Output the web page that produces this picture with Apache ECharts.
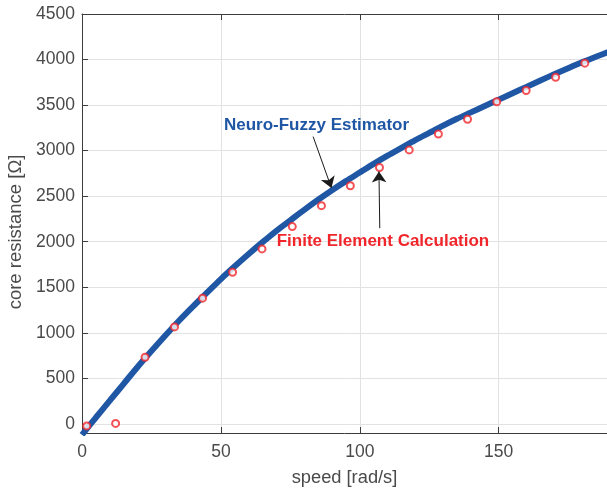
<!DOCTYPE html>
<html>
<head>
<meta charset="utf-8">
<script src="https://cdn.jsdelivr.net/npm/echarts@6/dist/echarts.min.js"></script>
<style>
  html, body { margin: 0; padding: 0; background: #fff; }
  #chart { width: 607px; height: 488px; }
</style>
</head>
<body>
<div id="chart"></div>
<script>
// Neuro-fuzzy estimator output (continuous curve)
const speedNF = [0, 5, 10, 15, 20, 25, 30, 35, 40, 45, 50, 55, 60, 65, 70, 75, 80, 85, 90, 95,
  100, 105, 110, 115, 120, 125, 130, 135, 140, 145, 150, 155, 160, 165, 170, 175, 180, 185, 190];
const resistanceNF = [-120, 70, 255, 440, 625, 800, 970, 1135, 1290, 1440, 1590, 1730, 1865, 1995, 2120,
  2235, 2350, 2460, 2565, 2665, 2760, 2855, 2945, 3030, 3115, 3195, 3275, 3350, 3420, 3490,
  3560, 3630, 3700, 3770, 3838, 3905, 3970, 4030, 4088];

// Finite element calculation results
const speedFE = [1.7, 12.1, 22.7, 33.3, 43.4, 54.2, 64.8, 75.7, 86.2, 96.6, 107.1, 117.8, 128.3,
  138.8, 149.3, 159.9, 170.5, 181.0];
const resistanceFE = [-22, 5, 732, 1065, 1380, 1665, 1921, 2166, 2396, 2614, 2815, 3008, 3182,
  3345, 3537, 3660, 3805, 3960];

// Axis ticks
const xTicks = [0, 50, 100, 150];
const yTicks = [0, 500, 1000, 1500, 2000, 2500, 3000, 3500, 4000, 4500];

// Annotation arrows: [from, to] in data coordinates
const arrowNF = [[83.2, 3154], [89.8, 2590]];
const arrowFE = [[107.2, 2148], [106.9, 2772]];

const FONT = 'Liberation Sans, Arial, Helvetica, sans-serif';
const TEXT_GRAY = '#4a4a4a';
const AXIS_GRAY = '#3c3c3c';
const GRID_GRAY = '#e2e2e2';
const BLUE = '#1f57a5';
const RED = '#f0262b';

const plain = v => String(v);

const chart = echarts.init(document.getElementById('chart'), null, { renderer: 'canvas' });

const option = {
  animation: false,
  backgroundColor: '#fff',
  grid: { left: 82, right: 0, top: 14, bottom: 55, containLabel: false, outerBoundsMode: 'none' },
  xAxis: [{
    type: 'value',
    min: xTicks[0],
    max: 189,
    interval: xTicks[1] - xTicks[0],
    name: 'speed [rad/s]',
    nameLocation: 'middle',
    nameGap: 36,
    nameTextStyle: { fontFamily: FONT, fontSize: 18.3, color: TEXT_GRAY },
    axisLine: { show: true, onZero: false, lineStyle: { color: AXIS_GRAY, width: 1 } },
    axisTick: { show: true, inside: true, length: 6, lineStyle: { color: AXIS_GRAY } },
    axisLabel: { fontFamily: FONT, fontSize: 17.5, color: TEXT_GRAY, margin: 10, showMaxLabel: false, formatter: plain },
    splitLine: { show: true, lineStyle: { color: GRID_GRAY, width: 1 } }
  }, {
    type: 'value',
    position: 'top',
    min: xTicks[0],
    max: 189,
    interval: xTicks[1] - xTicks[0],
    axisLine: { show: true, onZero: false, lineStyle: { color: AXIS_GRAY, width: 1 } },
    axisTick: { show: true, inside: true, length: 6, lineStyle: { color: AXIS_GRAY } },
    axisLabel: { show: false },
    splitLine: { show: false }
  }],
  yAxis: {
    type: 'value',
    min: -100,
    max: yTicks[yTicks.length - 1],
    splitNumber: 9,
    minInterval: yTicks[1] - yTicks[0],
    maxInterval: yTicks[1] - yTicks[0],
    name: 'core resistance [Ω]',
    nameLocation: 'middle',
    nameGap: 51,
    nameTextStyle: { fontFamily: FONT, fontSize: 18.5, color: TEXT_GRAY, padding: [0, 17, 0, 0] },
    axisLine: { show: true, onZero: false, lineStyle: { color: AXIS_GRAY, width: 1 } },
    axisTick: { show: true, inside: true, length: 6, lineStyle: { color: AXIS_GRAY } },
    axisLabel: { fontFamily: FONT, fontSize: 17.5, color: TEXT_GRAY, margin: 7, showMinLabel: false, formatter: plain },
    splitLine: { show: true, lineStyle: { color: GRID_GRAY, width: 1 } }
  },
  series: [{
    name: 'Neuro-Fuzzy Estimator',
    type: 'line',
    data: speedNF.map((s, i) => [s, resistanceNF[i]]),
    smooth: 0.3,
    showSymbol: false,
    clip: true,
    lineStyle: { color: BLUE, width: 6 },
    z: 2,
    markLine: {
      silent: true,
      symbol: ['none', 'arrow'],
      symbolSize: 11,
      label: { show: false },
      lineStyle: { color: '#1a1a1a', width: 1, type: 'solid' },
      data: [
        [{ coord: arrowNF[0] }, { coord: arrowNF[1] }],
        [{ coord: arrowFE[0] }, { coord: arrowFE[1] }]
      ],
      z: 5
    }
  }, {
    name: 'Finite Element Calculation',
    type: 'scatter',
    data: speedFE.map((s, i) => [s, resistanceFE[i]]),
    symbol: 'emptyCircle',
    symbolSize: 7,
    itemStyle: { color: RED, borderColor: RED, borderWidth: 2 },
    z: 4
  }]
};

chart.setOption(option);

// Annotation labels anchored in data coordinates (left edge, vertical middle)
const nfLabelAt = chart.convertToPixel({ gridIndex: 0 }, [51.1, 3281]);
const feLabelAt = chart.convertToPixel({ gridIndex: 0 }, [70.1, 2008]);
chart.setOption({
  graphic: [{
    type: 'text',
    x: nfLabelAt[0],
    y: nfLabelAt[1],
    style: {
      text: 'Neuro-Fuzzy Estimator',
      fontFamily: FONT, fontSize: 17, fontWeight: 'bold',
      fill: BLUE, align: 'left', verticalAlign: 'middle'
    },
    z: 10
  }, {
    type: 'text',
    x: feLabelAt[0],
    y: feLabelAt[1],
    style: {
      text: 'Finite Element Calculation',
      fontFamily: FONT, fontSize: 17, fontWeight: 'bold',
      fill: RED, align: 'left', verticalAlign: 'middle'
    },
    z: 10
  }]
});
</script>
</body>
</html>
